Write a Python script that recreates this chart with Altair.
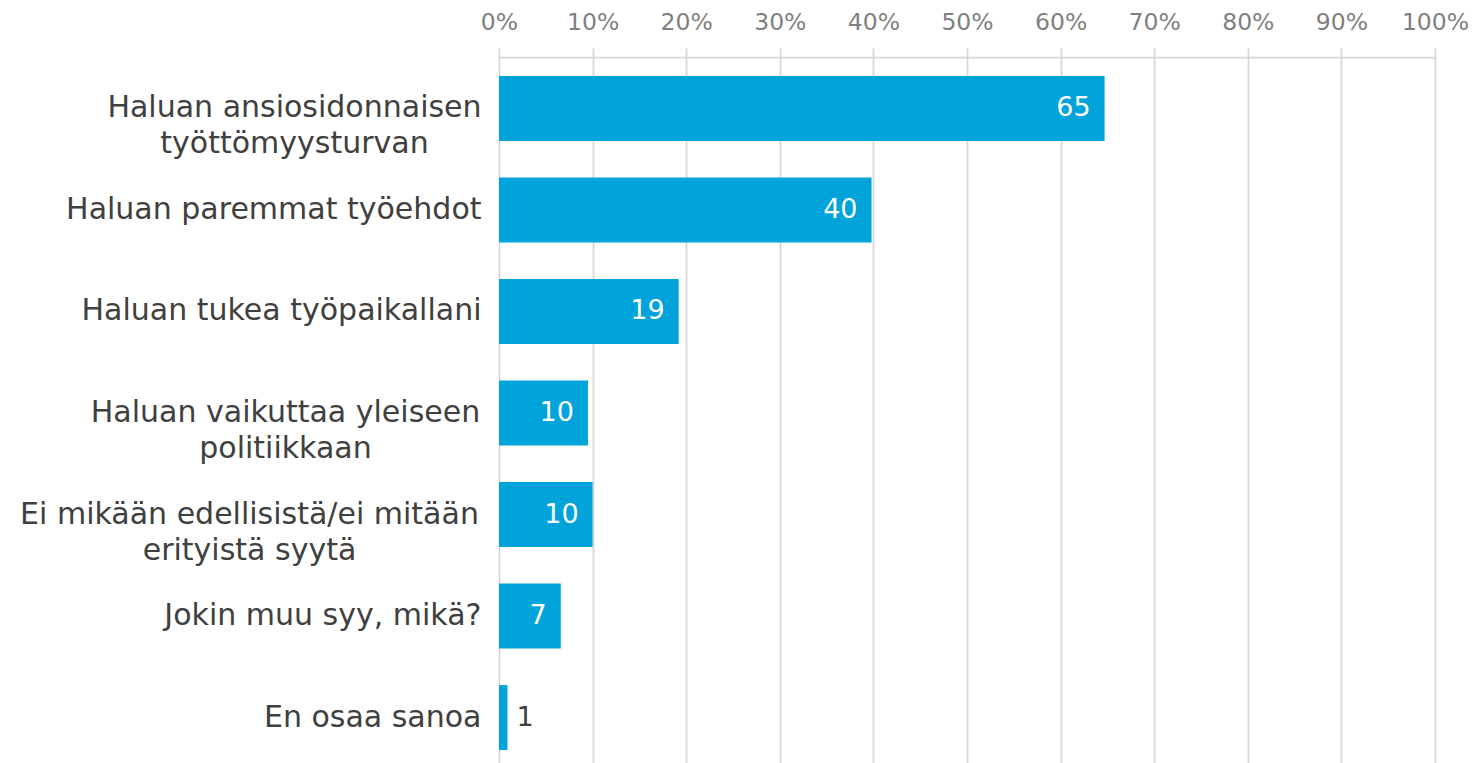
import altair as alt
import pandas as pd

categories = [
    "Haluan ansiosidonnaisen|työttömyysturvan",
    "Haluan paremmat työehdot",
    "Haluan tukea työpaikallani",
    "Haluan vaikuttaa yleiseen|politiikkaan",
    "Ei mikään edellisistä/ei mitään|erityistä syytä",
    "Jokin muu syy, mikä?",
    "En osaa sanoa",
]
values = [64.7, 39.8, 19.2, 9.5, 10.0, 6.6, 0.9]
value_labels = ["65", "40", "19", "10", "10", "7", "1"]
tick_values = [0, 10, 20, 30, 40, 50, 60, 70, 80, 90, 100]

df = pd.DataFrame({"cat": categories, "value": values, "label": value_labels})

FONT = "DejaVu Sans"
BAR = "#00A3DA"
GRID = "#d6d6d6"

y_enc = alt.Y(
    "cat:N",
    sort=categories,
    scale=alt.Scale(paddingInner=0.36, paddingOuter=0.187),
    axis=alt.Axis(
        title=None,
        domain=False,
        ticks=False,
        tickSize=0,
        grid=False,
        labelFont=FONT,
        labelFontSize=30,
        labelColor="#404040",
        labelLimit=700,
        labelLineHeight=36,
        labelExpr="split(datum.label, '|')",
        labelAlign={
            "condition": {"test": "indexof(datum.value, '|') >= 0", "value": "center"},
            "value": "right",
        },
        labelPadding={
            "condition": [
                {"test": "indexof(datum.value, 'ansio') >= 0", "value": 205},
                {"test": "indexof(datum.value, 'vaikuttaa') >= 0", "value": 214},
                {"test": "indexof(datum.value, 'edellisi') >= 0", "value": 250},
            ],
            "value": 18,
        },
    ),
)

x_enc = alt.X(
    "value:Q",
    scale=alt.Scale(domain=[0, 100], nice=False, zero=True),
    axis=alt.Axis(
        orient="top",
        title=None,
        values=tick_values,
        labelExpr="datum.value + '%'",
        labelFlush=False,
        labelOverlap=False,
        labelFont=FONT,
        labelFontSize=23.5,
        labelColor="#7f7f7f",
        labelPadding=14,
        tickSize=9,
        tickColor=GRID,
        tickWidth=1.75,
        domainColor=GRID,
        domainWidth=1.75,
        grid=True,
        gridColor=GRID,
        gridWidth=1.75,
    ),
)

base = alt.Chart(df)

bars = base.mark_bar(color=BAR).encode(x=x_enc, y=y_enc)

inside = base.transform_filter("datum.value >= 3").mark_text(
    align="right", baseline="middle", dx=-14, color="white", font=FONT, fontSize=27
).encode(x="value:Q", y=alt.Y("cat:N", sort=categories), text="label:N")

outside = base.transform_filter("datum.value < 3").mark_text(
    align="left", baseline="middle", dx=9, color="#404040", font=FONT, fontSize=27
).encode(x="value:Q", y=alt.Y("cat:N", sort=categories), text="label:N")

chart = (
    alt.layer(bars, inside, outside)
    .properties(
        width=936,
        height=712,
        autosize=alt.AutoSizeParams(type="none"),
        padding={"left": 491, "top": 49, "right": 35, "bottom": 0},
    )
    .configure_view(stroke=None)
    .configure(background="white")
)

chart.save("out.html", embed_options={"renderer": "svg", "actions": False})
